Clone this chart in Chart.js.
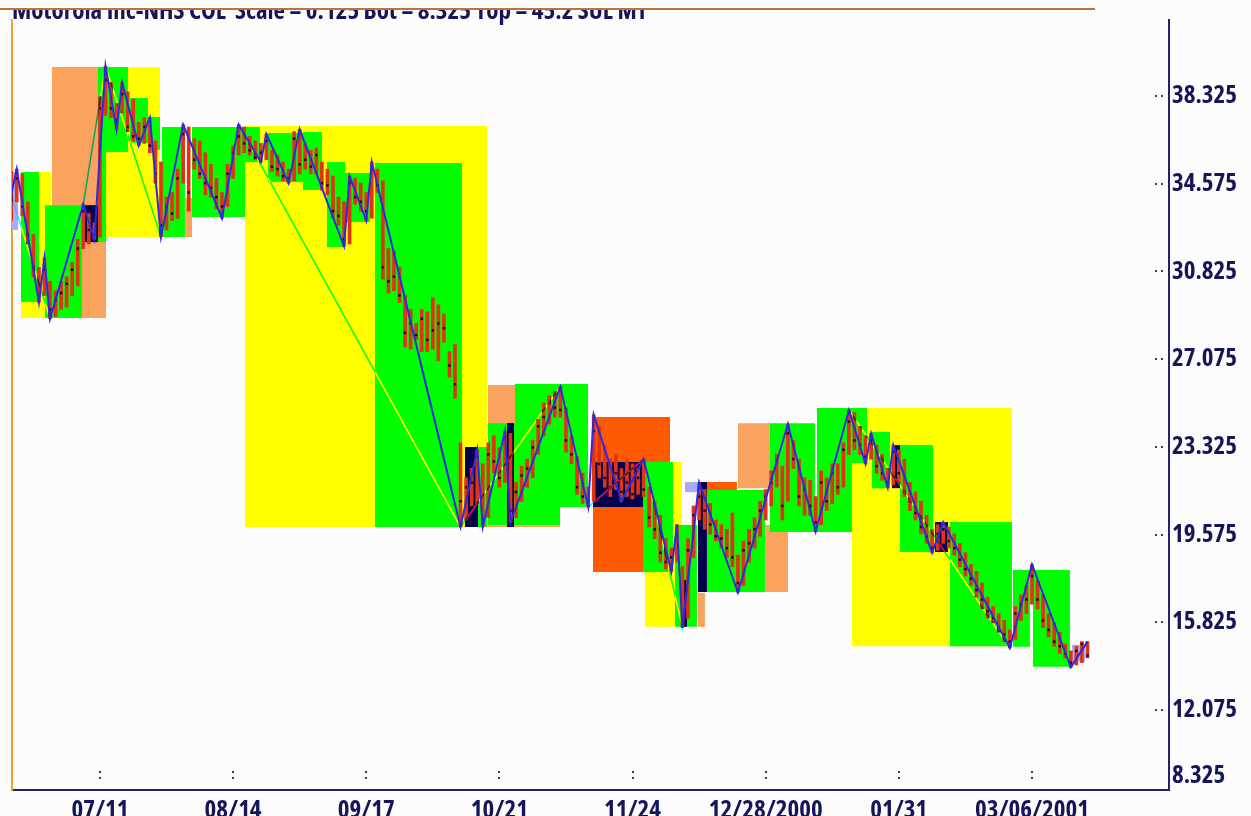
<!DOCTYPE html>
<html><head><meta charset="utf-8">
<script src="https://cdn.jsdelivr.net/npm/chart.js@4.4.1/dist/chart.umd.min.js"></script>
<style>
html,body{margin:0;padding:0;background:#fcfcfc;}
#wrap{position:relative;width:1251px;height:816px;overflow:hidden;}
canvas{position:absolute;left:0;top:0;}
#cut{position:absolute;left:0;top:0;width:1095px;height:8px;background:#fcfcfc;border-bottom:2px solid #c0703c;}
</style></head><body>
<div id="wrap"><canvas id="c" width="1251" height="816"></canvas><div id="cut"></div></div>
<script>
const titleText = 'Motorola Inc-NHS COL  Scale = 0.125 Bot = 8.325 Top = 45.2 SUL MT';
const xTickValues = [16, 40, 64, 88, 112, 136, 160, 184];
const xTickLabels = ['07/11', '08/14', '09/17', '10/21', '11/24', '12/28/2000', '01/31', '03/06/2001'];
const yTickValues = [38.325, 34.575, 30.825, 27.075, 23.325, 19.575, 15.825, 12.075, 9.25];
const yTickLabels = ['38.325', '34.575', '30.825', '27.075', '23.325', '19.575', '15.825', '12.075', '8.325'];

const high = [35.1,35.2,35.0,33.8,32.4,31.0,31.4,30.4,30.0,30.4, 30.6,31.2,32.2,33.7,33.3,32.9,38.3,39.6,38.9,38.0,
 38.9,38.5,38.2,37.2,37.4,37.4,36.4,35.5,34.0,34.2, 35.2,37.1,37.0,36.5,36.4,35.9,35.4,34.8,34.2,35.4,
 36.2,37.1,37.0,36.6,36.4,36.3,36.7,36.0,35.8,35.5, 35.2,36.8,36.9,36.3,36.0,36.1,35.5,35.2,34.9,34.0,
 33.8,34.9,34.8,34.6,34.2,35.5,35.2,34.7,31.8,31.7, 31.0,29.8,29.2,28.6,29.2,29.1,29.7,29.4,29.0,27.4,
 27.7,23.5,22.0,22.4,23.2,22.6,23.5,23.8,23.3,24.0, 23.9,21.8,22.5,22.8,23.6,24.5,25.2,25.5,25.7,25.9,
 25.0,23.8,22.9,22.2,21.6,24.7,24.2,23.4,22.8,23.0, 22.4,22.8,22.6,22.4,22.8,21.6,21.0,20.4,19.4,19.0,
 20.0,18.2,19.4,20.8,21.8,21.5,20.9,20.2,20.0,19.8, 20.5,18.7,19.3,19.8,20.3,21.0,21.5,22.3,23.0,22.5,
 24.3,23.6,22.8,22.0,21.9,21.2,22.3,22.0,22.6,22.6, 23.5,24.9,24.8,24.2,23.8,23.9,23.4,23.0,22.4,23.4,
 23.2,22.8,21.8,21.4,21.0,20.4,19.8,20.0,20.1,19.9, 19.6,19.2,18.8,18.3,18.0,17.5,16.9,16.5,16.2,15.9,
 15.5,16.5,17.0,17.4,18.3,17.6,17.0,16.2,15.8,15.4, 14.9,14.6,14.8,15.0,15.0];
const low = [33.0,33.8,33.2,32.0,30.6,29.5,29.8,28.8,28.9,29.2, 29.3,29.8,30.2,31.8,32.0,32.2,32.3,37.5,37.4,36.9,
 37.6,36.8,36.4,36.2,36.3,35.9,34.6,32.3,32.6,33.0, 33.1,34.6,33.4,35.2,34.8,34.1,34.0,33.5,33.1,33.6,
 34.8,35.8,35.9,35.8,35.6,35.5,35.6,35.1,34.9,34.7, 34.6,34.7,35.0,35.2,35.0,35.0,34.3,34.1,33.1,32.8,
 31.9,32.0,33.7,33.4,33.0,33.1,34.2,30.5,29.9,30.0, 29.5,27.6,27.5,27.9,27.4,27.4,27.5,27.0,27.8,26.3,
 25.4,19.9,20.2,20.8,20.9,19.9,20.3,22.2,21.6,21.8, 20.1,20.3,21.0,21.6,22.0,23.0,23.8,24.3,24.6,24.6,
 23.1,22.6,21.3,20.9,20.75,21.0,22.0,21.6,21.2,21.5, 21.0,21.2,21.1,21.3,21.2,19.9,19.4,18.4,18.1,18.0,
 18.4,15.6,16.0,18.6,20.2,19.8,19.6,19.3,19.0,18.6, 18.2,17.1,17.4,18.4,19.0,19.5,20.2,20.8,21.6,20.2,
 21.0,22.4,20.8,20.4,20.4,19.7,20.0,20.6,20.9,21.3, 21.6,23.0,23.2,23.0,22.6,22.8,22.2,21.9,21.6,21.7,
 21.8,21.2,20.6,20.2,19.6,19.2,18.8,18.9,19.2,19.0, 18.7,18.2,17.8,17.4,16.9,16.4,16.0,15.8,15.4,15.0,
 14.73,15.1,15.9,16.2,16.6,16.4,15.6,15.2,14.8,14.5, 14.3,13.9,14.0,14.1,14.3];
const close = [34.1,34.8,33.6,32.4,31.0,29.8,30.9,29.2,29.6,29.9, 30.3,30.9,31.8,33.4,32.6,32.4,37.8,39.0,37.8,37.3,
 38.4,37.0,36.6,36.5,37.0,36.2,35.0,32.8,33.6,33.3, 34.8,36.7,34.2,35.6,35.0,34.6,34.4,34.0,33.6,35.0,
 35.9,36.6,36.3,36.0,35.7,35.9,36.4,35.3,35.2,34.9, 34.8,36.5,35.4,35.6,35.3,35.8,34.6,34.5,33.4,33.2,
 32.2,34.6,34.0,33.8,33.4,35.2,34.5,31.0,30.4,30.6, 29.8,28.2,28.6,28.1,28.8,27.9,28.3,28.6,28.4,26.8,
 26.0,21.0,21.6,21.8,22.9,20.2,23.0,22.7,22.0,23.8, 20.6,21.4,22.1,22.4,23.3,24.2,24.6,25.2,25.0,24.9,
 23.6,23.0,21.6,21.2,21.0,24.0,22.6,22.0,21.6,22.2, 21.4,21.8,21.3,22.0,21.5,20.3,19.8,18.8,18.4,18.6,
 19.6,16.0,18.9,20.4,21.2,20.6,20.0,19.5,19.4,19.0, 18.6,17.5,18.9,19.2,19.8,20.6,21.2,21.8,22.7,20.8,
 23.9,22.8,21.2,21.5,20.8,20.1,21.8,21.0,22.2,21.6, 23.2,24.4,23.6,23.4,22.9,23.6,22.5,22.2,21.8,23.1,
 22.2,21.4,21.0,20.5,19.9,19.5,19.0,19.6,19.8,19.3, 19.0,18.5,18.1,17.7,17.2,16.8,16.3,16.0,15.6,15.3,
 15.0,16.2,16.6,16.8,17.8,16.8,15.9,15.5,15.0,14.8, 14.5,14.1,14.6,14.9,14.4];

const smallSwingIdx = [0,1,5,6,7,13,15,17,19,20,23,25,27,31,38,41,45,46,50,52,60,61,64,65,81,84,85,89,90,99,104,105,110,114,119,120,121,124,131,140,145,151,154,155,158,159,166,168,180,184,191,194];
const smallSwingPrice = [34.1,35.2,29.5,31.4,28.8,33.7,32.2,39.6,36.9,38.9,36.2,37.4,32.3,37.1,33.1,37.1,35.5,36.7,34.6,36.9,31.9,34.9,33.0,35.5,19.9,23.2,19.9,24.0,20.1,25.9,20.75,24.7,21.0,22.8,18.0,20.0,15.6,21.8,17.1,24.3,19.7,24.9,22.6,23.9,21.6,23.4,18.8,20.1,14.73,18.3,13.9,15.0];
const bigSwingIdx = [0,7,13,17,27,31,38,41,81,99,104,114,121,124,131,140,145,151,180,184,191,194];
const bigSwingPrice = [34.1,28.8,33.7,39.6,32.3,37.1,33.1,37.1,19.9,25.9,20.75,22.8,15.6,21.8,17.1,24.3,19.7,24.9,14.73,18.3,13.9,15.0];

// zones: [first bar, last bar, upper price, lower price, kind]
const boxes = [
 [1.77, 7.17, 35.08, 28.83, 'Y'], [0.14, 1.23, 35.08, 32.60, 'L'], [1.77, 5.01, 35.08, 29.52, 'G'],
 [7.35, 17.09, 39.57, 28.83, 'S'], [6.09, 12.76, 33.66, 28.83, 'G'], [12.94, 15.64, 33.66, 32.08, 'N'],
 [16.00, 26.82, 39.57, 32.30, 'Y'], [15.64, 17.09, 39.57, 32.08, 'G'], [17.09, 21.05, 39.57, 35.93, 'G'],
 [21.41, 24.66, 38.24, 36.32, 'G'], [24.66, 26.82, 37.43, 36.02, 'G'], [27.18, 31.32, 37.00, 32.30, 'G'],
 [31.32, 32.59, 33.96, 32.30, 'S'], [32.59, 42.14, 37.00, 33.15, 'G'], [42.14, 85.76, 37.04, 19.90, 'Y'],
 [42.14, 44.84, 37.00, 35.50, 'G'], [46.29, 52.60, 36.74, 34.65, 'G'], [52.60, 56.02, 36.79, 34.31, 'G'],
 [56.92, 60.17, 35.50, 31.87, 'G'], [60.17, 64.67, 35.03, 32.94, 'G'], [65.57, 81.26, 35.46, 19.90, 'G'],
 [81.79, 84.14, 23.32, 19.90, 'N'], [84.14, 85.76, 23.32, 19.90, 'G'], [85.94, 98.92, 25.97, 19.90, 'S'],
 [85.94, 90.81, 24.34, 19.98, 'G'], [89.36, 90.63, 24.34, 19.90, 'N'], [90.81, 98.92, 26.01, 19.98, 'G'],
 [98.92, 103.97, 26.01, 20.75, 'G'], [104.87, 118.75, 24.60, 17.97, 'R'], [104.87, 113.88, 22.68, 20.75, 'N'],
 [114.24, 120.91, 22.68, 15.63, 'Y'], [113.88, 119.29, 22.68, 17.97, 'G'], [119.65, 123.61, 19.98, 15.63, 'G'],
 [121.09, 121.81, 17.63, 15.63, 'N'], [123.79, 125.05, 17.08, 15.63, 'S'], [121.45, 123.79, 21.82, 21.39, 'L'],
 [123.79, 130.82, 21.82, 21.39, 'R'], [123.79, 125.41, 21.82, 17.12, 'N'], [125.41, 135.87, 21.48, 17.12, 'G'],
 [131.00, 136.77, 24.34, 21.56, 'S'], [135.87, 140.02, 19.98, 17.12, 'S'], [136.77, 144.88, 24.34, 19.68, 'G'],
 [151.55, 180.39, 24.99, 14.80, 'Y'], [145.24, 151.55, 24.99, 19.68, 'G'], [151.55, 154.26, 24.99, 22.63, 'G'],
 [155.16, 158.40, 23.96, 21.56, 'G'], [158.76, 160.56, 23.40, 21.56, 'N'], [160.20, 166.15, 23.40, 18.83, 'G'],
 [166.51, 168.85, 20.11, 18.83, 'N'], [169.21, 180.39, 20.11, 14.80, 'G'], [180.57, 183.63, 18.06, 14.78, 'G'],
 [184.17, 190.84, 18.06, 13.92, 'G'], [191.20, 193.55, 14.86, 14.14, 'L']
];

const COLORS = {Y:'#ffff00', G:'#00fe00', S:'#f9a35e', R:'#ff5a00', N:'#00004e', L:'#a9a9fb'};
const INK = '#15155a';

// pick the narrowest bold face that is installed
function pickFont() {
  const cands = [
    ['bold', "'Liberation Sans Narrow'"],
    ['bold extra-condensed', "'Noto Sans'"],
    ['bold condensed', "'Noto Sans'"],
    ['bold condensed', "'Open Sans'"],
    ['bold', "'Roboto Condensed'"],
    ['bold condensed', "'DejaVu Sans'"],
    ['bold', "'DejaVu Sans Condensed'"],
    ['bold', "'Liberation Sans'"]
  ];
  const ctx = document.createElement('canvas').getContext('2d');
  const probe = 'mmmwwwiii38.325MW';
  let best = {w: 1e9, weight: 'bold', family: "'DejaVu Sans Condensed', sans-serif", fam: "'DejaVu Sans Condensed'"};
  for (const [wt, fam] of cands) {
    ctx.font = '10px serif';
    ctx.font = wt + ' 40px ' + fam + ', monospace';
    if (ctx.font === '10px serif') continue;
    const a = ctx.measureText(probe).width;
    ctx.font = wt + ' 40px monospace';
    const b = ctx.measureText(probe).width;
    if (Math.abs(a - b) < 0.01) continue;
    ctx.font = wt + ' 100px ' + fam + ', monospace';
    const w = ctx.measureText('38.325').width / 100;
    if (w < best.w) best = {w, weight: wt, family: fam + ', sans-serif', fam};
  }
  ctx.font = best.weight + ' 100px ' + best.family;
  best.tw = ctx.measureText(titleText).width / 100;
  return best;
}
const F = pickFont();
const labelSize = Math.max(17, Math.min(25, 67 / F.w));
const titleSize = Math.max(17, Math.min(27, 636 / F.tw));
const fontOf = s => ({family: F.family, size: s, weight: F.weight, lineHeight: 1});
const titleTop = 21 - 0.36 * titleSize - titleSize / 2;

const boxDatasets = boxes.map((b, i) => ({
  type: 'line', label: 'zone' + i,
  data: [{x: b[0], y: b[2]}, {x: b[1], y: b[2]}],
  fill: {value: b[3]}, backgroundColor: COLORS[b[4]],
  borderColor: 'rgba(0,0,0,0)', borderWidth: 0, pointRadius: 0, tension: 0,
  order: 1000 - i
}));

const datasets = boxDatasets.concat([
  {type: 'bar', label: 'range', data: high.map((h, i) => ({x: i, y: [low[i], h]})),
   backgroundColor: '#e23212', barThickness: 3, grouped: false, order: 5},
  {type: 'line', label: 'close', data: close.map((c, i) => ({x: i, y: c})), showLine: false,
   pointStyle: 'rect', pointRadius: 1.8, pointBackgroundColor: '#10102a', pointBorderWidth: 0, order: 4},
  {type: 'line', label: 'bigSwing', data: bigSwingIdx.map((x, k) => ({x, y: bigSwingPrice[k]})),
   borderColor: '#ff0000', borderWidth: 1.5, pointRadius: 0, fill: false, tension: 0, order: 3},
  {type: 'line', label: 'smallSwing', data: smallSwingIdx.map((x, k) => ({x, y: smallSwingPrice[k]})),
   borderColor: '#2a2ae6', borderWidth: 2, pointRadius: 0, fill: false, tension: 0, order: 2}
]);

const bgPlugin = {id: 'bg', beforeDraw(chart) { const c = chart.ctx; c.save(); c.fillStyle = '#fcfcfc'; c.fillRect(0, 0, chart.width, chart.height); c.restore(); }};
const blendPlugin = {
  id: 'blend',
  beforeDatasetDraw(chart, args) { if (chart.data.datasets[args.index].label === 'bigSwing') { chart.ctx.save(); chart.ctx.globalCompositeOperation = 'difference'; } },
  afterDatasetDraw(chart, args) { if (chart.data.datasets[args.index].label === 'bigSwing') { chart.ctx.restore(); } }
};
const dotPlugin = {
  id: 'tickDots',
  afterDraw(chart) {
    const {ctx, chartArea, scales: {x, y}} = chart;
    ctx.save(); ctx.fillStyle = '#3a3a6a';
    yTickValues.slice(0, -1).forEach(v => { const py = Math.round(y.getPixelForValue(v));
      ctx.fillRect(chartArea.right - 14, py - 1, 2, 2); ctx.fillRect(chartArea.right - 8, py - 1, 2, 2); });
    xTickValues.forEach(v => { const px = Math.round(x.getPixelForValue(v));
      ctx.fillRect(px - 1, chartArea.bottom - 19, 2, 2); ctx.fillRect(px - 1, chartArea.bottom - 13, 2, 2); });
    ctx.restore();
  }
};

new Chart(document.getElementById('c'), {
  type: 'line',
  data: {datasets},
  plugins: [bgPlugin, blendPlugin, dotPlugin],
  options: {
    responsive: false, animation: false, devicePixelRatio: 1,
    layout: {padding: {left: 12, top: 0, right: 0, bottom: 0}},
    plugins: {
      legend: {display: false}, tooltip: {enabled: false},
      title: {display: true, text: titleText, align: 'start', color: INK,
        font: fontOf(titleSize), padding: {top: titleTop, bottom: 20 - titleSize - titleTop}}
    },
    scales: {
      x: {type: 'linear', position: 'bottom', min: 0.15, max: 208.7, offset: false,
        grid: {display: false, offset: false}, border: {display: true, color: '#23236a', width: 2},
        afterBuildTicks: s => { s.ticks = xTickValues.map(v => ({value: v})); },
        afterFit: s => { s.height = 26; },
        ticks: {autoSkip: false, maxRotation: 0, minRotation: 0, padding: 0, color: INK,
          font: fontOf(labelSize), callback: (v, i) => xTickLabels[i]}},
      y: {type: 'linear', position: 'right', min: 8.655, max: 41.575,
        grid: {display: false, drawTicks: false}, border: {display: true, color: '#23236a', width: 2},
        afterBuildTicks: s => { s.ticks = yTickValues.map(v => ({value: v})); },
        afterFit: s => { s.width = 82; },
        ticks: {autoSkip: false, padding: 3, color: INK,
          font: fontOf(labelSize), callback: (v, i) => yTickLabels[i]}},
      yl: {type: 'linear', position: 'left', display: true, min: 0, max: 1,
        grid: {display: false, drawTicks: false}, ticks: {display: false},
        border: {display: true, color: '#f5a030', width: 2},
        afterFit: s => { s.width = 0; }}
    }
  }
});
</script>
</body></html>
